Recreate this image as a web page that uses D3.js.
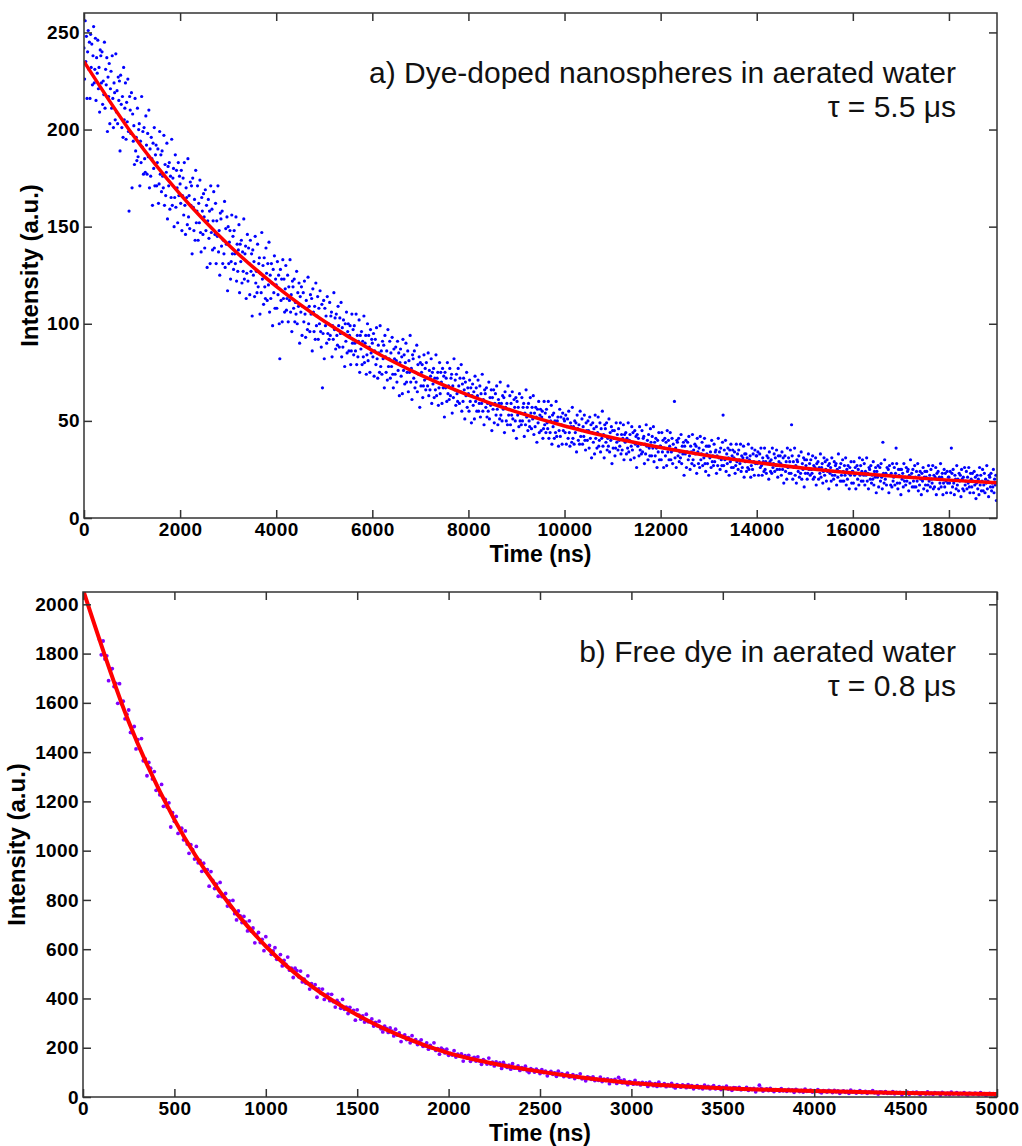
<!DOCTYPE html>
<html><head><meta charset="utf-8">
<script src="https://cdn.jsdelivr.net/npm/d3@7"></script>
<style>
html,body{margin:0;padding:0;background:#fff;}
svg{display:block;font-family:"Liberation Sans",Arial,Helvetica,sans-serif;}
.tick text{font-size:19px;font-weight:bold;fill:#000;letter-spacing:0.4px;}
.tick line{stroke:#333;stroke-width:1.5;}
</style></head><body>
<svg id="chart" width="1022" height="1146"></svg>
<script>
// ---------------- Panel a data ----------------
const timeTicksA = [0,2000,4000,6000,8000,10000,12000,14000,16000,18000];
const intensityTicksA = [0,50,100,150,200,250];
const timeStartA = 0;      // ns, first sample
const timeStepA = 12.5;    // ns, sampling interval
const intensityA = [
242,226,256,235,248,216,240,251,231,245,216,249,232,244,223,238,253,224,231,247,215,237,229,246,221,232,209,241,238,224,240,213,225,218,245,211,231,223,237,199,
227,217,234,203,221,230,211,238,216,201,224,219,205,239,209,220,203,227,215,225,189,228,213,201,217,196,232,205,211,224,195,214,204,226,199,158,217,210,198,219,
170,208,194,202,182,216,189,196,184,211,186,200,203,171,194,183,217,191,199,177,201,185,178,207,192,177,198,186,210,170,190,176,196,185,161,193,180,201,171,187,
192,171,183,190,162,172,199,177,187,168,189,176,170,197,161,182,166,178,193,154,181,171,183,159,176,165,195,161,175,180,150,165,187,160,179,170,152,183,166,176,
172,162,179,148,166,175,156,183,161,146,170,165,151,185,155,166,149,173,161,171,136,175,160,148,164,143,179,152,158,171,143,162,152,174,147,137,165,158,146,167,
155,139,169,148,161,129,153,164,144,158,131,171,147,159,138,153,168,139,146,162,131,153,145,171,137,148,125,157,154,140,158,131,143,136,163,129,149,141,155,117,
150,131,142,148,123,132,156,136,145,128,148,136,131,155,122,141,127,138,151,116,141,132,143,121,137,127,154,123,136,140,113,126,146,122,139,131,115,143,127,136,
104,138,125,132,114,145,121,127,116,141,119,131,134,105,126,116,147,123,130,110,134,119,113,139,126,112,131,120,142,106,125,113,131,121,99,128,116,135,108,123,
120,108,132,115,125,100,82,128,112,123,101,133,113,123,106,118,130,107,113,125,101,119,112,133,106,115,96,122,119,108,123,101,111,105,127,100,116,109,121,90,
114,106,119,94,109,116,101,122,105,93,112,108,97,124,100,109,96,115,105,113,86,118,106,96,109,92,121,99,104,114,92,108,100,117,96,88,110,67,95,112,
82,108,99,104,90,114,95,100,92,111,94,104,106,83,99,92,116,97,103,87,105,94,89,109,99,88,103,95,111,83,98,88,102,95,78,100,91,106,85,96,
100,86,94,99,79,86,105,90,97,84,99,90,86,105,79,94,83,91,102,75,94,87,96,79,91,83,104,80,90,94,74,84,100,81,94,88,75,97,85,92,
90,83,95,73,86,92,79,98,82,72,89,85,75,99,78,86,74,91,82,89,67,94,83,75,86,71,97,78,82,91,72,85,78,93,74,67,87,82,74,88,
81,70,91,76,85,63,80,87,73,83,64,92,76,84,69,80,90,70,75,86,65,81,75,94,70,77,61,84,82,72,86,67,75,70,89,65,79,74,83,57,
80,68,75,79,62,68,84,71,77,66,80,72,68,85,63,76,66,73,82,59,75,69,77,62,72,66,84,63,72,75,58,67,80,64,75,70,59,77,67,73,
52,75,67,72,60,80,64,68,61,77,63,72,74,54,68,62,82,66,71,58,74,64,60,77,68,59,72,65,79,55,69,60,72,66,51,70,63,75,57,67,
64,55,71,60,67,49,63,69,58,65,51,73,60,67,55,63,71,55,59,68,52,64,59,74,55,61,48,66,64,57,67,52,59,55,70,51,62,58,66,45,
62,56,66,49,59,64,53,68,56,48,61,59,51,70,53,59,50,63,56,62,44,65,57,50,59,48,68,53,56,63,48,59,53,65,51,45,61,57,50,62,
41,60,53,57,47,64,50,54,48,62,50,57,59,42,54,48,66,52,57,45,59,50,47,62,54,46,57,51,63,43,54,47,57,52,39,56,49,60,44,53,
56,45,52,55,41,46,60,48,54,44,56,49,46,60,41,52,44,50,58,38,53,47,54,41,50,44,60,42,50,52,37,45,56,42,52,48,38,54,45,51,
50,44,53,38,47,51,41,55,44,37,49,47,39,57,41,47,38,50,44,49,34,53,46,40,48,38,55,42,45,51,38,47,42,53,40,35,49,45,40,50,
45,36,52,41,48,31,44,49,39,46,33,53,41,47,36,44,52,37,40,49,34,46,41,55,37,43,31,48,46,39,49,35,41,37,51,34,44,40,47,28,
45,36,41,45,32,36,49,39,43,35,46,40,37,49,33,43,35,41,48,30,43,39,44,33,41,36,49,34,40,43,30,37,47,35,44,39,31,45,38,42,
26,43,37,41,32,47,35,38,33,45,34,41,42,28,38,33,48,37,40,30,43,36,32,46,39,32,42,36,47,29,39,32,41,36,26,40,34,44,30,37,
37,30,44,34,40,26,36,41,32,39,27,45,34,40,30,37,44,30,34,41,28,38,35,60,31,36,26,40,39,32,41,29,34,31,43,28,37,33,39,22,
37,33,40,26,34,39,30,42,32,25,37,34,28,43,30,35,27,38,33,37,23,41,34,28,36,26,42,30,33,39,27,35,31,41,28,24,37,33,28,37,
22,37,31,34,26,40,29,32,27,38,29,34,35,23,32,27,41,31,34,25,36,30,27,39,53,27,35,30,40,24,33,28,36,31,22,35,29,38,26,32,
35,26,31,34,23,27,38,29,33,25,35,30,28,38,24,32,26,31,37,21,33,29,33,24,31,26,38,25,30,32,21,27,36,25,33,29,22,35,28,32,
32,28,34,22,29,33,26,36,27,22,31,29,24,36,25,29,23,32,28,31,20,34,29,24,30,23,36,26,28,33,24,31,27,35,25,21,32,29,25,32,
28,22,34,25,31,18,27,32,24,29,20,36,26,31,23,29,35,23,48,32,20,29,26,36,22,27,18,30,29,24,32,21,26,23,34,20,28,25,31,16,
30,23,27,30,20,23,33,25,28,22,30,25,23,32,20,27,21,26,31,17,28,25,29,20,26,23,33,21,26,28,18,24,31,22,29,25,19,30,24,27,
15,28,23,26,19,31,22,24,20,29,22,27,28,17,25,21,33,24,26,19,28,22,19,30,24,19,27,22,31,17,25,20,27,23,15,26,22,29,18,24,
24,18,29,22,26,15,23,27,20,25,17,31,22,27,19,24,30,19,22,28,17,24,22,31,19,23,15,26,25,20,27,18,22,20,29,17,24,21,26,13,
24,21,27,16,22,26,19,28,21,15,39,23,18,30,20,23,17,26,22,25,13,27,22,17,23,16,28,19,21,26,17,23,36,28,18,15,25,22,18,25,
12,25,20,23,16,28,19,21,17,26,19,24,25,14,22,18,30,21,23,16,25,19,16,27,21,16,24,19,28,14,22,17,24,20,12,23,19,26,15,21,
24,17,21,24,14,17,27,19,22,16,25,20,18,27,15,22,16,21,26,12,23,20,24,15,21,18,28,16,21,23,12,18,25,16,23,19,13,24,18,21,
21,18,24,13,36,23,16,25,18,12,22,20,15,27,17,20,14,23,19,22,11,25,20,15,21,14,26,17,19,24,15,21,18,26,16,13,23,20,16,23,
19,13,24,17,21,10,18,22,15,20,12,26,17,22,14,19,25,14,17,23,13,20,18,27,15,19,11,22,21,16,23,14,18,16,25,13,20,17,22,9
];
const fitTimeA = [0,1000,2000,3000,4000,5000,6000,7000,8000,9000,10000,11000,12000,13000,14000,15000,16000,17000,18000,19000];
const fitIntensityA = [235,197.8,166.7,140.8,119.3,101.3,86.2,73.7,63.3,54.6,47.4,41.3,36.3,32.1,28.6,25.6,23.2,21.2,19.5,18.1];
const labelA = ["a) Dye-doped nanospheres in aerated water", "\u03C4 = 5.5 \u03BCs"];

// ---------------- Panel b data ----------------
const timeTicksB = [0,500,1000,1500,2000,2500,3000,3500,4000,4500,5000];
const intensityTicksB = [0,200,400,600,800,1000,1200,1400,1600,1800,2000];
const timeStartB = 90;     // ns, first sample
const timeStepB = 10;      // ns, sampling interval
const intensityB = [
1857,1795,1851,1778,1791,1690,1732,1739,1666,1679,1598,1678,1596,1607,1535,1554,1571,1480,1479,1504,1413,1451,
1415,1455,1365,1372,1304,1358,1335,1291,1321,1245,1256,1227,1269,1180,1208,1177,1194,1096,1154,1119,
1139,1070,1088,1091,1044,1080,1027,989,1024,1004,966,1017,951,960,916,949,916,923,856,915,879,846,864,815,871,
814,814,826,775,796,771,798,744,719,755,735,708,733,710,674,715,673,686,626,658,668,627,640,594,651,
605,615,579,593,606,559,561,578,532,555,538,568,515,523,485,523,513,488,511,467,478,462,492,438,460,
444,456,405,439,422,438,396,412,418,391,417,387,365,392,382,360,396,356,365,339,364,346,352,312,354,
332,316,329,304,336,305,307,317,288,303,289,308,277,264,288,278,262,280,267,248,275,251,260,225,246,
252,233,241,220,249,226,233,213,224,232,206,209,220,194,209,200,220,189,196,174,198,192,179,194,169,
177,170,188,162,174,166,175,146,168,159,169,145,157,161,146,163,146,133,152,146,134,158,134,141,126,
142,132,138,116,140,129,120,129,113,135,117,119,126,108,119,112,125,106,99,115,110,101,113,106,95,
111,99,105,86,99,104,92,98,84,105,91,95,83,90,97,81,83,91,75,86,80,94,74,79,66,
82,79,72,82,67,72,68,81,63,72,67,73,54,69,63,71,55,80,67,57,69,57,50,62,59,
52,67,53,57,49,59,53,57,43,60,53,46,54,43,60,46,49,54,42,50,45,55,42,37,50,
46,40,49,45,38,50,40,46,33,41,46,37,42,33,48,38,43,33,40,46,33,36,42,30,39,
36,44,32,36,27,38,37,32,39,29,33,31,39,27,34,30,35,21,32,48,35,24,29,33,26,
35,27,22,30,29,24,34,25,28,23,31,26,29,19,31,27,22,27,20,32,23,24,28,20,26,
23,30,21,17,26,24,20,27,24,18,27,21,25,15,22,25,19,23,15,28,20,23,16,21,26,
17,19,23,15,21,19,26,17,20,12,21,20,16,22,15,17,15,22,13,19,16,19,9,18,15,
20,11,16,19,14,20,14,10,17,16,12,21,13,16,11,18,15,16,8,19,15,11,16,10,20,
12,14,18,10,15,12,18,11,8,16,14,11,16,14,9,18,11,14,6,12,15,10,14,7
];
const fitTimeB = [0,250,500,750,1000,1250,1500,1750,2000,2250,2500,2750,3000,3250,3500,3750,4000,4250,4500,4750,5000];
const fitIntensityB = [2060,1523,1126,833,612,450,333,244,178,135,103,77,57,45,36,29,24,20,16,14,12];
const labelB = ["b) Free dye in aerated water", "\u03C4 = 0.8 \u03BCs"];

const xTitle = "Time (ns)";
const yTitle = "Intensity (a.u.)";

// ---------------- Drawing ----------------
const svg = d3.select("#chart");

function drawPanel(p) {
  const g = svg.append("g");
  const x = d3.scaleLinear().domain(p.xDomain).range([p.left, p.right]);
  const y = d3.scaleLinear().domain(p.yDomain).range([p.bottom, p.top]);

  const clipId = "clip-" + p.id;
  svg.append("defs").append("clipPath").attr("id", clipId)
    .append("rect").attr("x", p.left).attr("y", p.top)
    .attr("width", p.right - p.left).attr("height", p.bottom - p.top);

  const plot = g.append("g").attr("clip-path", `url(#${clipId})`);
  plot.selectAll("circle").data(p.values).join("circle")
    .attr("cx", (d, i) => x(p.t0 + i * p.dt))
    .attr("cy", d => y(d))
    .attr("r", p.r)
    .attr("fill", p.color);

  const line = d3.line()
    .x((d, i) => x(p.fitT[i]))
    .y(d => y(d))
    .curve(d3.curveMonotoneX);
  plot.append("path").attr("d", line(p.fitV))
    .attr("fill", "none").attr("stroke", "#ff0000").attr("stroke-width", p.lw);

  const clean = sel => sel.select(".domain").remove();
  g.append("g").attr("transform", `translate(0,${p.bottom})`)
    .call(d3.axisBottom(x).tickValues(p.xTicks).tickSizeInner(-8).tickSizeOuter(0).tickPadding(5).tickFormat(d3.format("d")))
    .call(clean);
  g.append("g").attr("transform", `translate(0,${p.top})`)
    .call(d3.axisTop(x).tickValues(p.xTicks).tickSizeInner(-8).tickSizeOuter(0).tickFormat(""))
    .call(clean);
  g.append("g").attr("transform", `translate(${p.left},0)`)
    .call(d3.axisLeft(y).tickValues(p.yTicks).tickSizeInner(-8).tickSizeOuter(0).tickPadding(4).tickFormat(d3.format("d")))
    .call(clean);
  g.append("g").attr("transform", `translate(${p.right},0)`)
    .call(d3.axisRight(y).tickValues(p.yTicks).tickSizeInner(-8).tickSizeOuter(0).tickFormat(""))
    .call(clean);

  g.append("rect").attr("x", p.left).attr("y", p.top)
    .attr("width", p.right - p.left).attr("height", p.bottom - p.top)
    .attr("fill", "none").attr("stroke", "#333").attr("stroke-width", 1.5);

  g.append("text").attr("x", (p.left + p.right) / 2).attr("y", p.bottom + 44)
    .attr("text-anchor", "middle").attr("font-size", 23).attr("font-weight", "bold")
    .text(xTitle);
  g.append("text")
    .attr("transform", `translate(${p.yTitleX},${(p.top + p.bottom) / 2}) rotate(-90)`)
    .attr("text-anchor", "middle").attr("font-size", 24).attr("font-weight", "bold")
    .text(yTitle);

  p.label.forEach((s, i) => {
    g.append("text").attr("x", 956).attr("y", p.top + 70 + i * 34)
      .attr("text-anchor", "end").attr("font-size", 30).attr("fill", "#111")
      .text(s);
  });
}

drawPanel({
  id: "a", left: 84, right: 997, top: 13, bottom: 518,
  xDomain: [0, 19000], yDomain: [0, 260],
  xTicks: timeTicksA, yTicks: intensityTicksA,
  values: intensityA, t0: timeStartA, dt: timeStepA,
  fitT: fitTimeA, fitV: fitIntensityA,
  color: "#0000ff", r: 1.6, lw: 3.5, yTitleX: 38, label: labelA
});
drawPanel({
  id: "b", left: 83, right: 997, top: 592, bottom: 1097,
  xDomain: [0, 5000], yDomain: [0, 2050],
  xTicks: timeTicksB, yTicks: intensityTicksB,
  values: intensityB, t0: timeStartB, dt: timeStepB,
  fitT: fitTimeB, fitV: fitIntensityB,
  color: "#8000ff", r: 1.9, lw: 4, yTitleX: 25, label: labelB
});
</script>
</body></html>
